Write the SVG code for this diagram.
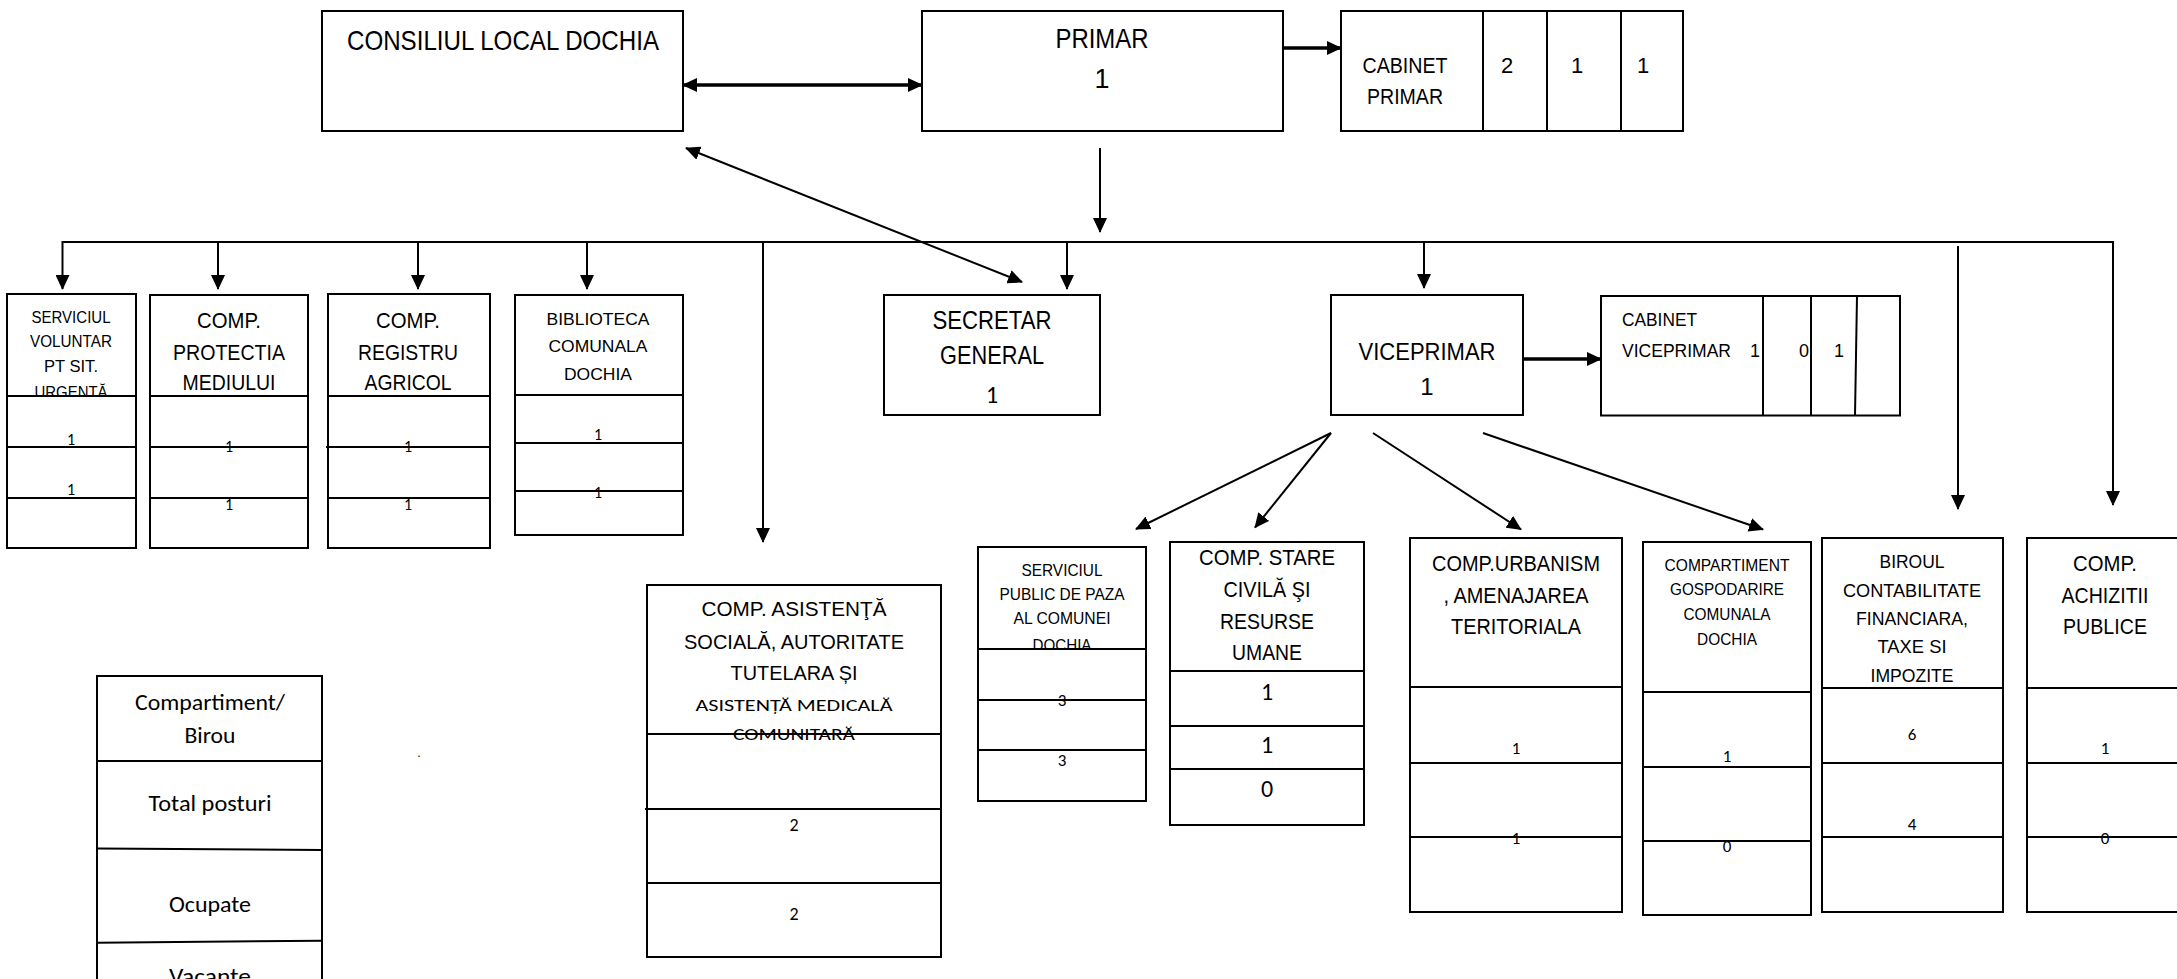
<svg xmlns="http://www.w3.org/2000/svg" width="2177" height="979" viewBox="0 0 2177 979">
<defs>
<style>
.box{fill:#fff;stroke:#000;stroke-width:2}
.rl{stroke:#000;stroke-width:2;fill:none}
.c{stroke:#000;stroke-width:2;fill:none}
.ct{stroke:#000;stroke-width:3.5;fill:none}
.t{font-family:"Liberation Sans Narrow","Liberation Sans",Arial,sans-serif;text-anchor:middle;fill:#000}
.tl{font-family:"Liberation Sans Narrow","Liberation Sans",Arial,sans-serif;text-anchor:start;fill:#000}
.n{font-family:Carlito,"Open Sans","Noto Sans",sans-serif;font-weight:normal;text-anchor:middle;fill:#000}
</style>
<marker id="ah" markerUnits="userSpaceOnUse" viewBox="0 0 15 14" refX="14" refY="7" markerWidth="15" markerHeight="14" orient="auto-start-reverse">
<path d="M0,0 L15,7 L0,14 z" fill="#000"/>
</marker>
<clipPath id="clipUrg"><rect x="0" y="290" width="140" height="105"/></clipPath>
<clipPath id="clipPaza"><rect x="970" y="540" width="180" height="108"/></clipPath>
</defs>

<g id="connectors">
<line class="ct" x1="683" y1="85" x2="922" y2="85" marker-start="url(#ah)" marker-end="url(#ah)"/>
<line class="ct" x1="1283" y1="48" x2="1341" y2="48" marker-end="url(#ah)"/>
<line class="c" x1="1100" y1="148" x2="1100" y2="232" marker-end="url(#ah)"/>
<line class="c" x1="62" y1="242" x2="2114" y2="242"/>
<line class="c" x1="62.5" y1="241" x2="62.5" y2="289" marker-end="url(#ah)"/>
<line class="c" x1="218" y1="242" x2="218" y2="289" marker-end="url(#ah)"/>
<line class="c" x1="418" y1="242" x2="418" y2="289" marker-end="url(#ah)"/>
<line class="c" x1="587" y1="242" x2="587" y2="289" marker-end="url(#ah)"/>
<line class="c" x1="763" y1="242" x2="763" y2="542" marker-end="url(#ah)"/>
<line class="c" x1="1067" y1="242" x2="1067" y2="289" marker-end="url(#ah)"/>
<line class="c" x1="1424" y1="242" x2="1424" y2="288" marker-end="url(#ah)"/>
<line class="c" x1="1958" y1="246" x2="1958" y2="509" marker-end="url(#ah)"/>
<line class="c" x1="2113" y1="241" x2="2113" y2="505" marker-end="url(#ah)"/>
<line class="c" x1="686" y1="148" x2="1022" y2="282" marker-start="url(#ah)" marker-end="url(#ah)"/>
<line class="ct" x1="1523" y1="359" x2="1601" y2="359" marker-end="url(#ah)"/>
<line class="c" x1="1331" y1="433" x2="1136" y2="529" marker-end="url(#ah)"/>
<line class="c" x1="1331" y1="433" x2="1255" y2="527.5" marker-end="url(#ah)"/>
<line class="c" x1="1373" y1="433" x2="1521" y2="529.5" marker-end="url(#ah)"/>
<line class="c" x1="1483" y1="433" x2="1763" y2="529.5" marker-end="url(#ah)"/>
</g>

<g id="consiliul">
<rect class="box" x="322" y="11" width="361" height="120"/>
<text class="t" x="503" y="50" font-size="28" textLength="312" lengthAdjust="spacingAndGlyphs">CONSILIUL LOCAL DOCHIA</text>
</g>

<g id="primar">
<rect class="box" x="922" y="11" width="361" height="120"/>
<text class="t" x="1102" y="48" font-size="27" textLength="93" lengthAdjust="spacingAndGlyphs">PRIMAR</text>
<text class="t" x="1102" y="88" font-size="27">1</text>
</g>

<g id="cabinet-primar">
<rect class="box" x="1341" y="11" width="342" height="120"/>
<line class="rl" x1="1483" y1="11" x2="1483" y2="131"/>
<line class="rl" x1="1547" y1="11" x2="1547" y2="131"/>
<line class="rl" x1="1621" y1="11" x2="1621" y2="131"/>
<text class="t" x="1405" y="73" font-size="22" textLength="85" lengthAdjust="spacingAndGlyphs">CABINET</text>
<text class="t" x="1405" y="104" font-size="22" textLength="76" lengthAdjust="spacingAndGlyphs">PRIMAR</text>
<text class="t" x="1507" y="73" font-size="22">2</text>
<text class="t" x="1577" y="73" font-size="22">1</text>
<text class="t" x="1643" y="73" font-size="22">1</text>
</g>

<g id="serviciul-voluntar">
<rect class="box" x="7" y="294" width="129" height="254"/>
<text class="t" x="71" y="323" font-size="16" textLength="79" lengthAdjust="spacingAndGlyphs">SERVICIUL</text>
<text class="t" x="71" y="347" font-size="16" textLength="82" lengthAdjust="spacingAndGlyphs">VOLUNTAR</text>
<text class="t" x="71" y="372" font-size="16" textLength="54" lengthAdjust="spacingAndGlyphs">PT SIT.</text>
<text class="t" x="71" y="398" font-size="16" textLength="73" lengthAdjust="spacingAndGlyphs" clip-path="url(#clipUrg)">URGENȚĂ</text>
<line class="rl" x1="7" y1="396" x2="136" y2="396"/>
<line class="rl" x1="7" y1="447" x2="136" y2="447"/>
<line class="rl" x1="7" y1="498" x2="136" y2="498"/>
<text class="n" x="71" y="445" font-size="16">1</text>
<text class="n" x="71" y="495" font-size="16">1</text>
</g>

<g id="protectia-mediului">
<rect class="box" x="150" y="295" width="158" height="253"/>
<text class="t" x="229" y="328" font-size="22" textLength="64" lengthAdjust="spacingAndGlyphs">COMP.</text>
<text class="t" x="229" y="360" font-size="22" textLength="112" lengthAdjust="spacingAndGlyphs">PROTECTIA</text>
<text class="t" x="229" y="390" font-size="22" textLength="93" lengthAdjust="spacingAndGlyphs">MEDIULUI</text>
<line class="rl" x1="150" y1="396" x2="308" y2="396"/>
<line class="rl" x1="150" y1="447" x2="308" y2="447"/>
<line class="rl" x1="150" y1="498" x2="308" y2="498"/>
<text class="n" x="229" y="452" font-size="16">1</text>
<text class="n" x="229" y="510" font-size="16">1</text>
</g>

<g id="registru-agricol">
<rect class="box" x="328" y="294" width="162" height="254"/>
<text class="t" x="408" y="328" font-size="22" textLength="64" lengthAdjust="spacingAndGlyphs">COMP.</text>
<text class="t" x="408" y="360" font-size="22" textLength="100" lengthAdjust="spacingAndGlyphs">REGISTRU</text>
<text class="t" x="408" y="390" font-size="22" textLength="87" lengthAdjust="spacingAndGlyphs">AGRICOL</text>
<line class="rl" x1="328" y1="396" x2="490" y2="396"/>
<line class="rl" x1="326" y1="447" x2="490" y2="447"/>
<line class="rl" x1="328" y1="498" x2="490" y2="498"/>
<text class="n" x="408" y="452" font-size="16">1</text>
<text class="n" x="408" y="510" font-size="16">1</text>
</g>

<g id="biblioteca">
<rect class="box" x="515" y="295" width="168" height="240"/>
<text class="t" x="598" y="325" font-size="17" textLength="103" lengthAdjust="spacingAndGlyphs">BIBLIOTECA</text>
<text class="t" x="598" y="352" font-size="17" textLength="99" lengthAdjust="spacingAndGlyphs">COMUNALA</text>
<text class="t" x="598" y="380" font-size="17" textLength="68" lengthAdjust="spacingAndGlyphs">DOCHIA</text>
<line class="rl" x1="515" y1="395" x2="683" y2="395"/>
<line class="rl" x1="515" y1="443" x2="683" y2="443"/>
<line class="rl" x1="515" y1="491" x2="683" y2="491"/>
<text class="n" x="598" y="440" font-size="16">1</text>
<text class="n" x="598" y="498" font-size="16">1</text>
</g>

<g id="secretar-general">
<rect class="box" x="884" y="295" width="216" height="120"/>
<text class="t" x="992" y="329" font-size="25" textLength="119" lengthAdjust="spacingAndGlyphs">SECRETAR</text>
<text class="t" x="992" y="364" font-size="25" textLength="104" lengthAdjust="spacingAndGlyphs">GENERAL</text>
<text class="n" x="992" y="403" font-size="24">1</text>
</g>

<g id="viceprimar">
<rect class="box" x="1331" y="295" width="192" height="120"/>
<text class="t" x="1427" y="360" font-size="24" textLength="137" lengthAdjust="spacingAndGlyphs">VICEPRIMAR</text>
<text class="t" x="1427" y="395" font-size="24">1</text>
</g>

<g id="cabinet-viceprimar">
<rect class="box" x="1601" y="296" width="299" height="119.5"/>
<line class="rl" x1="1763" y1="296" x2="1763" y2="415.5"/>
<line class="rl" x1="1811" y1="296" x2="1811" y2="415.5"/>
<line class="rl" x1="1857" y1="296" x2="1855" y2="415.5"/>
<text class="tl" x="1622" y="326" font-size="18" textLength="75" lengthAdjust="spacingAndGlyphs">CABINET</text>
<text class="tl" x="1622" y="357" font-size="18" textLength="109" lengthAdjust="spacingAndGlyphs">VICEPRIMAR</text>
<text class="t" x="1755" y="357" font-size="18">1</text>
<text class="t" x="1804" y="357" font-size="18">0</text>
<text class="t" x="1839" y="357" font-size="18">1</text>
</g>

<g id="asistenta-sociala">
<rect class="box" x="647" y="585" width="294" height="372"/>
<text class="t" x="794" y="616" font-size="21" textLength="185" lengthAdjust="spacingAndGlyphs">COMP.  ASISTENŢĂ</text>
<text class="t" x="794" y="649" font-size="21" textLength="220" lengthAdjust="spacingAndGlyphs">SOCIALĂ, AUTORITATE</text>
<text class="t" x="794" y="680" font-size="21" textLength="127" lengthAdjust="spacingAndGlyphs">TUTELARA ȘI</text>
<text class="n" x="794" y="711" font-size="17" textLength="197" lengthAdjust="spacingAndGlyphs">ASISTENȚĂ  MEDICALĂ</text>
<text class="n" x="794" y="740" font-size="17" textLength="122" lengthAdjust="spacingAndGlyphs">COMUNITARĂ</text>
<line class="rl" x1="647" y1="734" x2="941" y2="734"/>
<line class="rl" x1="645" y1="809" x2="941" y2="809"/>
<line class="rl" x1="647" y1="883" x2="941" y2="883"/>
<text class="n" x="794" y="831" font-size="18">2</text>
<text class="n" x="794" y="920" font-size="18">2</text>
</g>

<g id="serviciul-paza">
<rect class="box" x="978" y="547" width="168" height="254"/>
<text class="t" x="1062" y="576" font-size="17" textLength="81" lengthAdjust="spacingAndGlyphs">SERVICIUL</text>
<text class="t" x="1062" y="600" font-size="17" textLength="125" lengthAdjust="spacingAndGlyphs">PUBLIC DE PAZA</text>
<text class="t" x="1062" y="624" font-size="17" textLength="97" lengthAdjust="spacingAndGlyphs">AL COMUNEI</text>
<text class="t" x="1062" y="651" font-size="17" textLength="59" lengthAdjust="spacingAndGlyphs" clip-path="url(#clipPaza)">DOCHIA</text>
<line class="rl" x1="978" y1="649" x2="1146" y2="649"/>
<line class="rl" x1="978" y1="700" x2="1146" y2="700"/>
<line class="rl" x1="978" y1="750" x2="1146" y2="750"/>
<text class="n" x="1062" y="706" font-size="17">3</text>
<text class="n" x="1062" y="766" font-size="17">3</text>
</g>

<g id="stare-civila">
<rect class="box" x="1170" y="542" width="194" height="283"/>
<text class="t" x="1267" y="565" font-size="22" textLength="136" lengthAdjust="spacingAndGlyphs">COMP. STARE</text>
<text class="t" x="1267" y="597" font-size="22" textLength="87" lengthAdjust="spacingAndGlyphs">CIVILĂ ŞI</text>
<text class="t" x="1267" y="629" font-size="22" textLength="94" lengthAdjust="spacingAndGlyphs">RESURSE</text>
<text class="t" x="1267" y="660" font-size="22" textLength="70" lengthAdjust="spacingAndGlyphs">UMANE</text>
<line class="rl" x1="1170" y1="671" x2="1364" y2="671"/>
<line class="rl" x1="1170" y1="726" x2="1364" y2="726"/>
<line class="rl" x1="1170" y1="769" x2="1364" y2="769"/>
<text class="n" x="1267" y="700" font-size="24">1</text>
<text class="n" x="1267" y="753" font-size="24">1</text>
<text class="n" x="1267" y="797" font-size="24">0</text>
</g>

<g id="urbanism">
<rect class="box" x="1410" y="538" width="212" height="374"/>
<text class="t" x="1516" y="571" font-size="22" textLength="168" lengthAdjust="spacingAndGlyphs">COMP.URBANISM</text>
<text class="t" x="1516" y="603" font-size="22" textLength="145" lengthAdjust="spacingAndGlyphs">, AMENAJAREA</text>
<text class="t" x="1516" y="634" font-size="22" textLength="130" lengthAdjust="spacingAndGlyphs">TERITORIALA</text>
<line class="rl" x1="1410" y1="687" x2="1622" y2="687"/>
<line class="rl" x1="1410" y1="763" x2="1622" y2="763"/>
<line class="rl" x1="1410" y1="837" x2="1622" y2="837"/>
<text class="n" x="1516" y="754" font-size="17">1</text>
<text class="n" x="1516" y="844" font-size="17">1</text>
</g>

<g id="gospodarire">
<rect class="box" x="1643" y="542" width="168" height="373"/>
<text class="t" x="1727" y="571" font-size="17" textLength="125" lengthAdjust="spacingAndGlyphs">COMPARTIMENT</text>
<text class="t" x="1727" y="595" font-size="17" textLength="114" lengthAdjust="spacingAndGlyphs">GOSPODARIRE</text>
<text class="t" x="1727" y="620" font-size="17" textLength="87" lengthAdjust="spacingAndGlyphs">COMUNALA</text>
<text class="t" x="1727" y="645" font-size="17" textLength="60" lengthAdjust="spacingAndGlyphs">DOCHIA</text>
<line class="rl" x1="1643" y1="692" x2="1811" y2="692"/>
<line class="rl" x1="1643" y1="767" x2="1811" y2="767"/>
<line class="rl" x1="1643" y1="841" x2="1811" y2="841"/>
<text class="n" x="1727" y="762" font-size="17">1</text>
<text class="n" x="1727" y="852" font-size="17">0</text>
</g>

<g id="biroul-contabilitate">
<rect class="box" x="1822" y="538" width="181" height="374"/>
<text class="t" x="1912" y="568" font-size="19" textLength="65" lengthAdjust="spacingAndGlyphs">BIROUL</text>
<text class="t" x="1912" y="597" font-size="19" textLength="138" lengthAdjust="spacingAndGlyphs">CONTABILITATE</text>
<text class="t" x="1912" y="625" font-size="19" textLength="112" lengthAdjust="spacingAndGlyphs">FINANCIARA,</text>
<text class="t" x="1912" y="653" font-size="19" textLength="69" lengthAdjust="spacingAndGlyphs">TAXE SI</text>
<text class="t" x="1912" y="682" font-size="19" textLength="83" lengthAdjust="spacingAndGlyphs">IMPOZITE</text>
<line class="rl" x1="1822" y1="688" x2="2003" y2="688"/>
<line class="rl" x1="1822" y1="763" x2="2003" y2="763"/>
<line class="rl" x1="1822" y1="837" x2="2003" y2="837"/>
<text class="n" x="1912" y="740" font-size="17">6</text>
<text class="n" x="1912" y="830" font-size="17">4</text>
</g>

<g id="achizitii-publice">
<rect class="box" x="2027" y="538" width="200" height="374"/>
<text class="t" x="2105" y="571" font-size="22" textLength="64" lengthAdjust="spacingAndGlyphs">COMP.</text>
<text class="t" x="2105" y="603" font-size="22" textLength="87" lengthAdjust="spacingAndGlyphs">ACHIZITII</text>
<text class="t" x="2105" y="634" font-size="22" textLength="84" lengthAdjust="spacingAndGlyphs">PUBLICE</text>
<line class="rl" x1="2027" y1="688" x2="2227" y2="688"/>
<line class="rl" x1="2027" y1="763" x2="2227" y2="763"/>
<line class="rl" x1="2027" y1="837" x2="2227" y2="837"/>
<text class="n" x="2105" y="754" font-size="17">1</text>
<text class="n" x="2105" y="844" font-size="17">0</text>
</g>

<g id="legend">
<rect class="box" x="97" y="676" width="225" height="330"/>
<line class="rl" x1="97" y1="761" x2="322" y2="761"/>
<line class="rl" x1="97" y1="848.5" x2="322" y2="850"/>
<line class="rl" x1="97" y1="942.7" x2="322" y2="940.7"/>
<text class="n" x="210" y="710" font-size="22" textLength="150" lengthAdjust="spacingAndGlyphs">Compartiment/</text>
<text class="n" x="210" y="743" font-size="22" textLength="51" lengthAdjust="spacingAndGlyphs">Birou</text>
<text class="n" x="210" y="811" font-size="22" textLength="123" lengthAdjust="spacingAndGlyphs">Total posturi</text>
<text class="n" x="210" y="912" font-size="22" textLength="82" lengthAdjust="spacingAndGlyphs">Ocupate</text>
<text class="n" x="210" y="984" font-size="22" textLength="82" lengthAdjust="spacingAndGlyphs">Vacante</text>
</g>

<text class="n" x="419" y="757" font-size="12">.</text>
</svg>
